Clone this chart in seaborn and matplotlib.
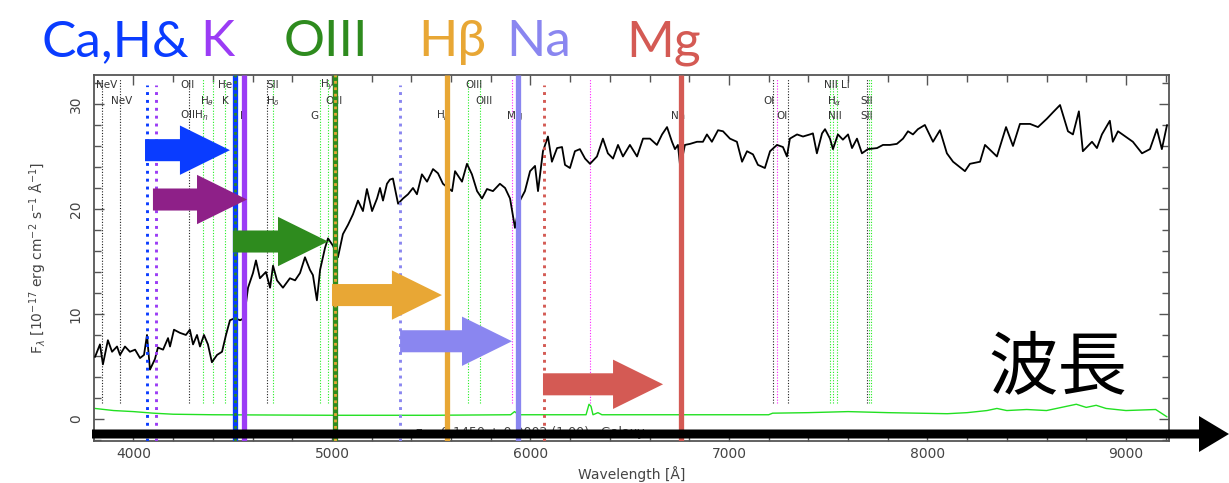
import matplotlib
matplotlib.use("Agg")
import matplotlib.pyplot as plt
import seaborn as sns
import pandas as pd
from matplotlib.patches import FancyArrow
from matplotlib.ticker import MultipleLocator

# ---------------- data ----------------
wavelength = [3806, 3831, 3846, 3871, 3892, 3917, 3932, 3957, 3982, 4008, 4033, 4053, 4068, 4083,
              4108, 4123, 4149, 4174, 4184, 4204, 4234, 4264, 4284, 4300, 4320, 4335, 4355, 4375,
              4395, 4421, 4446, 4466, 4486, 4511, 4537, 4557, 4577, 4602, 4617, 4637, 4667, 4688,
              4703, 4723, 4753, 4788, 4814, 4839, 4864, 4889, 4904, 4924, 4940, 4965, 4980, 5005,
              5030, 5055, 5081, 5106, 5131, 5156, 5176, 5202, 5227, 5242, 5257, 5277, 5292, 5307,
              5333, 5358, 5383, 5408, 5428, 5453, 5479, 5509, 5534, 5559, 5605, 5620, 5655, 5680,
              5705, 5731, 5756, 5781, 5811, 5846, 5872, 5897, 5922, 5947, 5972, 5998, 6023, 6038,
              6063, 6088, 6108, 6134, 6159, 6174, 6199, 6224, 6249, 6275, 6300, 6335, 6365, 6390,
              6416, 6441, 6466, 6501, 6537, 6567, 6602, 6637, 6663, 6688, 6713, 6728, 6743, 6755,
              6778, 6804, 6839, 6869, 6889, 6914, 6945, 6970, 7005, 7040, 7066, 7091, 7121, 7146,
              7181, 7207, 7242, 7272, 7292, 7307, 7343, 7373, 7408, 7423, 7443, 7469, 7484, 7509,
              7524, 7549, 7574, 7600, 7620, 7645, 7670, 7700, 7746, 7776, 7811, 7846, 7877, 7902,
              7927, 7952, 7987, 8028, 8063, 8098, 8129, 8189, 8214, 8265, 8290, 8350, 8396, 8431,
              8466, 8517, 8557, 8602, 8632, 8668, 8708, 8733, 8763, 8783, 8829, 8854, 8879, 8919,
              8934, 8960, 9035, 9081, 9121, 9156, 9181, 9207]
flux = [5.9, 7.1, 5.2, 7.5, 6.4, 6.9, 6.1, 6.9, 6.4, 6.6, 5.8, 6.1, 8.0, 4.7,
        5.7, 6.8, 6.6, 7.7, 6.9, 8.5, 8.2, 8.0, 8.5, 7.1, 8.0, 6.9, 8.0, 7.1,
        5.4, 6.1, 6.4, 8.0, 9.4, 9.6, 9.4, 9.6, 12.5, 13.9, 15.1, 13.4, 14.0, 12.5,
        14.6, 13.2, 12.5, 13.4, 13.2, 13.9, 15.4, 14.2, 13.7, 11.3, 14.2, 16.3, 17.2, 16.5,
        15.4, 17.6, 18.5, 19.5, 20.8, 19.8, 21.9, 19.8, 21.0, 22.0, 20.8, 22.4, 22.8, 22.9,
        20.5, 21.0, 21.4, 22.0, 21.4, 23.3, 22.6, 23.8, 23.4, 22.4, 21.7, 23.6, 22.6, 24.3,
        23.3, 21.7, 21.0, 21.9, 21.7, 22.4, 22.0, 21.0, 18.2, 20.8, 21.7, 23.6, 24.1, 21.7,
        25.5, 26.9, 24.5, 25.8, 25.9, 24.2, 23.9, 25.5, 25.7, 24.8, 24.3, 25.0, 26.7, 25.3,
        24.8, 26.1, 25.0, 26.1, 25.0, 26.7, 26.7, 26.1, 27.1, 27.8, 26.4, 25.7, 26.1, 23.9,
        26.1, 26.2, 26.4, 26.4, 27.1, 26.4, 27.5, 27.4, 26.7, 26.4, 24.5, 25.5, 25.2, 24.2,
        23.9, 25.5, 26.1, 25.9, 25.0, 26.7, 27.1, 26.9, 27.1, 27.2, 25.3, 27.2, 27.6, 26.7,
        25.7, 27.1, 26.6, 27.1, 25.8, 26.7, 25.3, 25.7, 25.8, 26.1, 26.1, 26.2, 26.7, 27.4,
        27.1, 27.6, 28.0, 26.4, 27.5, 25.3, 24.5, 23.6, 24.3, 24.5, 26.1, 25.0, 27.8, 26.0,
        28.1, 28.1, 27.8, 28.6, 29.2, 29.9, 27.4, 27.1, 29.3, 25.5, 26.4, 25.8, 27.1, 28.4,
        26.4, 27.4, 26.4, 25.3, 25.7, 27.6, 25.7, 28.0]

err_wavelength = [3806, 3900, 4000, 4100, 4200, 4400, 5000, 5500, 5900, 5920, 5940, 6280, 6295,
                  6305, 6315, 6340, 6360, 7200, 7220, 7400, 7600, 7800, 8100, 8200, 8300, 8350,
                  8400, 8500, 8600, 8700, 8750, 8800, 8850, 8900, 9000, 9150, 9207]
err_flux = [1.0, 0.8, 0.7, 0.55, 0.45, 0.4, 0.35, 0.35, 0.4, 0.7, 0.4, 0.4, 1.4,
            1.2, 0.4, 0.6, 0.4, 0.4, 0.55, 0.6, 0.7, 0.6, 0.5, 0.6, 0.8, 1.0,
            0.8, 0.9, 0.8, 1.2, 1.4, 1.1, 1.3, 1.0, 0.8, 0.9, 0.2]

black_lines = [3840, 3932, 4279, 4673, 7222, 7297, 7695]
green_lines = [4350, 4400, 4461, 4703, 4940, 4980, 5685, 5746, 7509, 7524, 7544, 7705, 7715]
magenta_lines = [5906, 6300, 7242]

label_text = ["NeV", "OII", "HeI", "SII", r"H$_\gamma$", "OIII", "NII Li",
              "NeV", r"H$_\theta$", "K", r"H$_\delta$", "OIII", "OIII", "OI", r"H$_\alpha$", "SII",
              r"OIIH$_\eta$", "H", "G", r"H$_\beta$", "Mg", "Na", "OI", "NII", "SII"]
label_wave = [3812, 4234, 4426, 4667, 4940, 5673, 7479,
              3887, 4335, 4446, 4667, 4965, 5723, 7171, 7494, 7660,
              4234, 4537, 4889, 5524, 5881, 6708, 7237, 7499, 7660]
label_row = [1, 1, 1, 1, 1, 1, 1,
             2, 2, 2, 2, 2, 2, 2, 2, 2,
             3, 3, 3, 3, 3, 3, 3, 3, 3]
row_flux = {1: 31.8, 2: 30.3, 3: 28.9}

# coloured annotation (rest = dotted, shifted = solid)
c_blue, c_purple, c_green = "#0a3cff", "#9b3cf5", "#2e8b1e"
c_orange, c_lav, c_red, c_magenta = "#e8a735", "#8a86f0", "#d45a54", "#8e2088"
rest_wave = [4068, 4113, 5343, 6068]
rest_color = [c_blue, c_purple, c_lav, c_red]
shift_wave = [4511, 4557, 5015, 5580, 5937, 6758]
shift_color = [c_blue, c_purple, c_green, c_orange, c_lav, c_red]
overlay_wave = [4511, 5015]
overlay_color = [c_green, c_orange]

arrow_start = [4058, 4098, 4501, 5000, 5343, 6063]
arrow_end = [4486, 4572, 4980, 5554, 5907, 6668]
arrow_flux = [25.6, 20.9, 16.9, 11.8, 7.4, 3.3]
arrow_color = [c_blue, c_magenta, c_green, c_orange, c_lav, c_red]

title_words = ["Ca,H&", "K", "OIII", "Hβ", "Na", "Mg"]
title_colors = [c_blue, c_purple, c_green, c_orange, c_lav, c_red]

# ---------------- figure ----------------
sns.set_theme(style="white")
plt.rcParams['font.family'] = ['DejaVu Sans', 'Noto Sans CJK JP']

W, H = 1229, 483
fig = plt.figure(figsize=(W / 100, H / 100), dpi=100)
ax = fig.add_axes([94 / W, (H - 441) / H, (1169 - 94) / W, (441 - 75) / H])

spec = pd.DataFrame({"wavelength": wavelength, "flux": flux})
err = pd.DataFrame({"wavelength": err_wavelength, "flux": err_flux})

for w in black_lines:
    ax.plot([w, w], [1.5, 32.5], color="#222222", lw=0.8, ls=(0, (1, 1.5)), zorder=1)
for w in green_lines:
    ax.plot([w, w], [1.5, 32.5], color="#22ee22", lw=0.8, ls=(0, (1, 1.5)), zorder=1)
for w in magenta_lines:
    ax.plot([w, w], [1.5, 32.5], color="#ff22ff", lw=0.8, ls=(0, (1, 1.5)), zorder=1)

sns.lineplot(data=err, x="wavelength", y="flux", color="#22e022", lw=1.0, ax=ax,
             sort=False, estimator=None, zorder=2)
sns.lineplot(data=spec, x="wavelength", y="flux", color="black", lw=1.3, ax=ax,
             sort=False, estimator=None, zorder=3)

for t, w, r in zip(label_text, label_wave, label_row):
    ax.text(w, row_flux[r], t, fontsize=7.5, color="#333333", ha="left", va="center", zorder=2)

ax.text(6000, -1.3, "z = 0.1450 \u00b1 0.0002 (1.00)   Galaxy", fontsize=9, color="#444444",
        ha="center", va="center", zorder=2)

for w, c in zip(rest_wave, rest_color):
    ax.plot([w, w], [-2.1, 31.8], color=c, lw=2.1, ls=(0, (1, 1.7)), zorder=5)
for w, c in zip(shift_wave, shift_color):
    ax.plot([w, w], [-2.1, 32.8], color=c, lw=3.8, solid_capstyle="butt", zorder=5)
for w, c in zip(overlay_wave, overlay_color):
    ax.plot([w, w], [-2.1, 32.8], color=c, lw=2.0, ls=(0, (1, 1.3)), zorder=6)

for s, e, y, c in zip(arrow_start, arrow_end, arrow_flux, arrow_color):
    ax.add_patch(FancyArrow(s, y, e - s, 0, width=2.1, head_width=4.7, head_length=252,
                            length_includes_head=True, color=c, lw=0, zorder=7))

ax.set_xlim(3801, 9217)
ax.set_ylim(-2.1, 32.76)
ax.xaxis.set_major_locator(MultipleLocator(1000))
ax.xaxis.set_minor_locator(MultipleLocator(200))
ax.yaxis.set_major_locator(MultipleLocator(10))
ax.yaxis.set_minor_locator(MultipleLocator(2))
ax.tick_params(which="both", direction="in", top=True, right=True, bottom=True, left=True,
               color="#555555", width=1.0)
ax.tick_params(which="major", length=7, labelsize=10, labelcolor="#444444", pad=4)
ax.tick_params(axis="y", which="major", pad=8)
ax.tick_params(which="minor", length=5)
for lbl in ax.get_yticklabels():
    lbl.set_rotation(90)
    lbl.set_va("center")
for sp in ax.spines.values():
    sp.set_color("#555555")
    sp.set_linewidth(1.3)
ax.set_xlabel("Wavelength [Å]", fontsize=10, color="#444444", labelpad=4)
ax.set_ylabel(r"F$_\lambda$ [10$^{-17}$ erg cm$^{-2}$ s$^{-1}$ Å$^{-1}$]", fontsize=10,
              color="#444444", labelpad=14)
ax.grid(False)

# big wavelength arrow
fig.add_artist(FancyArrow(0.92, (H - 434) / 100, 12.29 - 0.92, 0, width=0.09, head_width=0.36,
                          head_length=0.30, length_includes_head=True, color="black", lw=0,
                          transform=fig.dpi_scale_trans, zorder=10))

# title words
title_x = [42, 200, 284, 418, 506, 626]
for word, c, x in zip(title_words, title_colors, title_x):
    fig.text(x / W, (H - 56) / H, word, color=c, fontsize=37, family="Lato",
             ha="left", va="baseline")

fig.text(1058 / W, (H - 368) / H, "波長", fontsize=50, family="Noto Sans CJK JP",
         color="black", ha="center", va="center", zorder=11)

fig.savefig("out.png", dpi=100)
